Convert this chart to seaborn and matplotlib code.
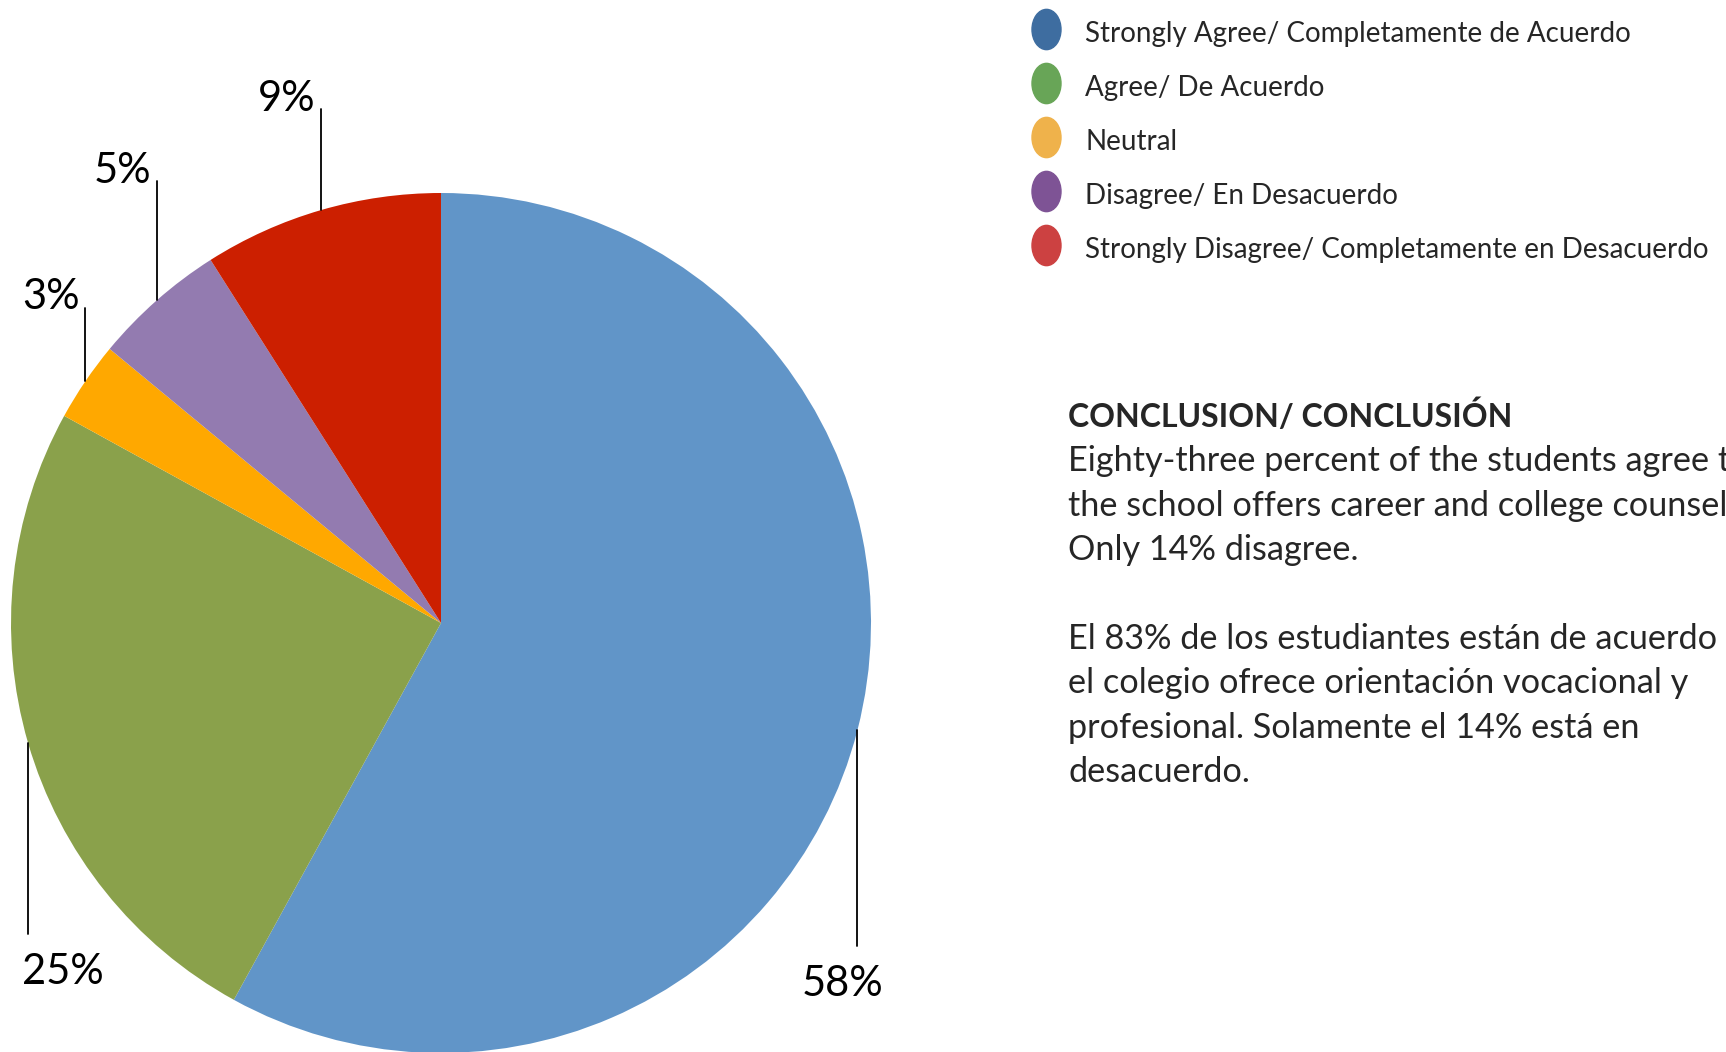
import matplotlib
matplotlib.use("Agg")
import matplotlib.pyplot as plt
import seaborn as sns
import numpy as np
from matplotlib.lines import Line2D
from matplotlib.path import Path
from matplotlib.transforms import Affine2D

# ---- data ----
categories = [
    "Strongly Agree/ Completamente de Acuerdo",
    "Agree/ De Acuerdo",
    "Neutral",
    "Disagree/ En Desacuerdo",
    "Strongly Disagree/ Completamente en Desacuerdo",
]
values = [58, 25, 3, 5, 9]
slice_colors = ["#6195C8", "#8AA14B", "#FFA800", "#937BB0", "#CC1F00"]
legend_colors = ["#3E6DA0", "#68A557", "#EFB24B", "#7E5395", "#CC4141"]
label_texts = [f"{v}%" for v in values]

conclusion_title = "CONCLUSION/ CONCLUSIÓN"
conclusion_lines = [
    "Eighty-three percent of the students agree that",
    "the school offers career and college counseling.",
    "Only 14% disagree.",
    "",
    "El 83% de los estudiantes están de acuerdo que",
    "el colegio ofrece orientación vocacional y",
    "profesional. Solamente el 14% está en",
    "desacuerdo.",
]

sns.set_theme(style="white")
plt.rcParams["font.family"] = ["Lato", "DejaVu Sans"]

W, H = 1726, 1052
fig = plt.figure(figsize=(W / 100, H / 100), dpi=100)
fig.patch.set_facecolor("white")

# pie axes: center (441, 623) px, radius 430 px
cx, cy, R = 441, 623, 430
ax = fig.add_axes([(cx - R) / W, (H - cy - R) / H, 2 * R / W, 2 * R / H])
wedges, _ = ax.pie(values, colors=slice_colors, startangle=90, counterclock=False,
                   radius=1.0, wedgeprops=dict(linewidth=0))
ax.set_xlim(-1, 1)
ax.set_ylim(-1, 1)
ax.set_aspect("equal")
ax.axis("off")

# label layout: (line end y in data units, text offset dx, dy, ha, va)
label_layout = [
    (-0.75, -0.035, -0.045, "center", "top"),   # 58%
    (-0.723, -0.015, -0.045, "left", "top"),    # 25%
    (0.733, -0.012, -0.02, "right", "bottom"),   # 3%
    (1.028, -0.012, -0.02, "right", "bottom"),   # 5%
    (1.195, -0.012, -0.02, "right", "bottom"),   # 9%
]
for w, txt, (yend, dx, dy, ha, va) in zip(wedges, label_texts, label_layout):
    mid = np.deg2rad((w.theta1 + w.theta2) / 2)
    x0, y0 = np.cos(mid), np.sin(mid)
    ax.plot([x0, x0], [y0, yend], color="black", lw=1.3, clip_on=False)
    ax.text(x0 + dx, yend + dy, txt, ha=ha, va=va, fontsize=30, color="black",
            clip_on=False)

# legend
fs_leg = 20
ell = Path.unit_circle().transformed(Affine2D().scale(0.72, 1.0))
handles = [Line2D([0], [0], marker=ell, linestyle="none", markersize=29,
                  markerfacecolor=c, markeredgecolor=c) for c in legend_colors]
leg = fig.legend(handles, categories, loc="upper left",
                 bbox_to_anchor=(1031 / W, 1 - 16 / H), frameon=False,
                 prop=dict(size=fs_leg),
                 handlelength=1.05, handleheight=1.5, handletextpad=0.9,
                 labelspacing=0.72, borderpad=0.0, borderaxespad=0.0)

# conclusion text
tx = 1068 / W
fs_c = 24.7
fig.text(tx, 1 - 427 / H, conclusion_title, fontsize=23, fontweight="bold",
         ha="left", va="baseline")
for i, line in enumerate(conclusion_lines):
    fig.text(tx, 1 - (427 + 44.4 * (i + 1)) / H, line, fontsize=fs_c,
             ha="left", va="baseline")

fig.savefig("out.png", dpi=100, facecolor="white")
